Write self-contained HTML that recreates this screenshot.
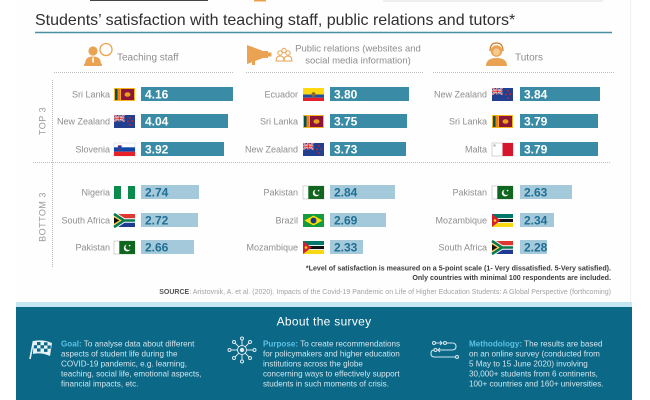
<!DOCTYPE html>
<html><head><meta charset="utf-8"><style>
html,body{margin:0;padding:0;background:#fff;}
svg{display:block;}
text{font-family:"Liberation Sans",sans-serif;}
.lab{font-size:9px;fill:#8e8e8e;text-anchor:end;}
.vt{font-size:12px;font-weight:bold;fill:#fff;}
.vb{font-size:12px;font-weight:bold;fill:#1f6f94;}
.ft{font-size:8.1px;fill:#d3e5ee;}
.fh{font-weight:bold;fill:#5cc2e6;}
</style></head><body>
<svg width="650" height="400" viewBox="0 0 650 400" xmlns="http://www.w3.org/2000/svg">
<defs>
 <g id="lk"><rect width="21" height="13" fill="#f6b619"/><rect x="1" y="1" width="2.6" height="11" fill="#00534e"/><rect x="3.6" y="1" width="2.6" height="11" fill="#f57a18"/><rect x="7" y="1" width="13" height="11" fill="#8d153a"/><ellipse cx="13.5" cy="6.5" rx="3" ry="2.3" fill="#e6a21c"/></g>
 <g id="nz"><rect width="21" height="13" fill="#22408f"/><rect width="10.5" height="6.5" fill="#22408f"/><path d="M0,0L10.5,6.5M10.5,0L0,6.5" stroke="#fff" stroke-width="1.6"/><path d="M0,0L10.5,6.5M10.5,0L0,6.5" stroke="#d22" stroke-width="0.6"/><path d="M5.25,0V6.5M0,3.25H10.5" stroke="#fff" stroke-width="2"/><path d="M5.25,0V6.5M0,3.25H10.5" stroke="#d22" stroke-width="1.1"/><circle cx="16" cy="3" r="0.9" fill="#d22"/><circle cx="18.3" cy="6" r="0.9" fill="#d22"/><circle cx="14" cy="6.5" r="0.9" fill="#d22"/><circle cx="16" cy="10" r="0.9" fill="#d22"/></g>
 <g id="si"><rect width="21" height="13" fill="#fff" stroke="#ccc" stroke-width="0.5"/><rect y="4.3" width="21" height="4.4" fill="#1046a8"/><rect y="8.7" width="21" height="4.3" fill="#e8202a"/><path d="M4,2.5h3.5v3.5q-1.75,2-3.5,0z" fill="#1046a8" stroke="#e8202a" stroke-width="0.4"/></g>
 <g id="ng"><rect width="7" height="13" fill="#0a8a4c"/><rect x="7" width="7" height="13" fill="#fff"/><rect x="14" width="7" height="13" fill="#0a8a4c"/></g>
 <g id="za"><rect width="21" height="6.5" fill="#de3831"/><rect y="6.5" width="21" height="6.5" fill="#1f3a93"/><path d="M0,0L10,6.5L21,6.5M0,13L10,6.5" stroke="#fff" stroke-width="4.4" fill="none"/><path d="M0,0L10,6.5L21,6.5M0,13L10,6.5" stroke="#0a7a4d" stroke-width="2.6" fill="none"/><path d="M0,2.2L7,6.5L0,10.8z" fill="#ffb612"/><path d="M0,3.4L5.2,6.5L0,9.6z" fill="#111"/></g>
 <g id="pk"><rect width="21" height="13" fill="#fff" stroke="#bbb" stroke-width="0.6"/><rect x="5.3" width="15.7" height="13" fill="#11661f"/><circle cx="13.2" cy="7" r="3.4" fill="#fff"/><circle cx="14.4" cy="6.1" r="2.9" fill="#11661f"/><circle cx="15.6" cy="4.6" r="0.8" fill="#fff"/></g>
 <g id="ec"><rect width="21" height="6.5" fill="#ffd90f"/><rect y="6.5" width="21" height="3.25" fill="#1c4fa0"/><rect y="9.75" width="21" height="3.25" fill="#e5202a"/><ellipse cx="10.5" cy="6.5" rx="2" ry="2.4" fill="#8a6a2a"/></g>
 <g id="br"><rect width="21" height="13" fill="#139b3d"/><path d="M10.5,1.5L19.5,6.5L10.5,11.5L1.5,6.5z" fill="#fedf00"/><circle cx="10.5" cy="6.5" r="3" fill="#1a3a8a"/></g>
 <g id="mz"><rect width="21" height="4.2" fill="#00796b"/><rect y="4.2" width="21" height="0.8" fill="#fff"/><rect y="5" width="21" height="3.2" fill="#111"/><rect y="8.2" width="21" height="0.8" fill="#fff"/><rect y="9" width="21" height="4" fill="#f8d90f"/><path d="M0,0L8.5,6.5L0,13z" fill="#d4202e"/><circle cx="3" cy="6.5" r="1.3" fill="#f8d90f"/></g>
 <g id="mt"><rect width="21" height="13" fill="#fff" stroke="#bbb" stroke-width="0.6"/><rect x="10.5" width="10.5" height="13" fill="#d6162c"/><rect x="1.5" y="1.5" width="2" height="2" fill="#aaa"/></g>
</defs>

<rect x="16" y="0" width="616" height="303" fill="#fefefe"/>
<line x1="630.5" y1="0" x2="630.5" y2="303" stroke="#f2f2f2" stroke-width="1"/>
<rect x="90" y="0" width="118" height="1" fill="#444"/>
<rect x="254" y="0" width="12" height="1.5" fill="#e8a04a"/>
<rect x="383" y="0" width="220" height="2" fill="#eeeeee"/>

<!-- Title -->
<text x="35" y="25" font-size="16" fill="#2f2f2f">Students’ satisfaction with teaching staff, public relations and tutors*</text>
<line x1="35" y1="32.5" x2="612" y2="32.5" stroke="#4b8fa2" stroke-width="1.5"/>

<!-- Header icons -->
<g fill="#eaa352">
 <circle cx="106" cy="49.5" r="6" fill="none" stroke="#eaa352" stroke-width="1.3"/>
 <circle cx="93" cy="51" r="4.6"/>
 <path d="M85,64 Q85,56.5 93,56.5 Q101,56.5 101,64 Z"/>
 <rect x="84" y="63.5" width="18" height="2.5" rx="1"/>
 <rect x="92.3" y="57.5" width="1.6" height="5" fill="#fff"/>
</g>
<text x="117" y="60.5" font-size="10" fill="#8e8e8e">Teaching staff</text>

<g fill="#eaa352">
 <path d="M247,45 L262,50.5 L262,58.5 L247,64 Z"/>
 <rect x="262" y="51" width="6" height="7"/>
 <rect x="268" y="52.5" width="3.5" height="4"/>
 <rect x="252" y="59" width="3" height="6"/>
</g>
<g fill="none" stroke="#eaa352" stroke-width="1">
 <circle cx="280" cy="53" r="2.2"/><circle cx="284" cy="50.5" r="2.2"/><circle cx="288" cy="53" r="2.2"/>
 <path d="M276,61 q0,-5 4,-5 q4,0 4,5z"/><path d="M284,61 q0,-5 4,-5 q4,0 4,5z"/>
</g>
<text x="358" y="51.3" font-size="9.5" fill="#8e8e8e" text-anchor="middle">Public relations (websites and</text>
<text x="358" y="63.3" font-size="9.5" fill="#8e8e8e" text-anchor="middle">social media information)</text>

<g fill="#eaa352">
 <circle cx="496.5" cy="51" r="5.8"/>
 <path d="M486,66 Q486,58 496.5,58 Q507,58 507,66 Z"/>
 <path d="M490,51 q0,-8 6.5,-8 q6.5,0 6.5,8" fill="none" stroke="#c97c2a" stroke-width="1.2"/>
 <circle cx="496.5" cy="52" r="3.6" fill="#f6c98f"/>
</g>
<text x="515" y="60.5" font-size="10" fill="#8e8e8e">Tutors</text>

<!-- dotted lines -->
<g stroke="#a9a9a9" stroke-width="0.8" stroke-dasharray="1,1">
 <line x1="54" y1="72.5" x2="233" y2="72.5"/>
 <line x1="246" y1="72.5" x2="423" y2="72.5"/>
 <line x1="433" y1="72.5" x2="614" y2="72.5"/>
 <line x1="52.5" y1="80" x2="52.5" y2="268"/>
 <line x1="33" y1="162.5" x2="610" y2="162.5"/>
</g>
<text transform="translate(45.5,121) rotate(-90)" font-size="9" fill="#9a9a9a" text-anchor="middle" letter-spacing="0.5">TOP 3</text>
<text transform="translate(45.5,217) rotate(-90)" font-size="9" fill="#9a9a9a" text-anchor="middle" letter-spacing="0.5">BOTTOM 3</text>

<!-- Column 1 -->
<text class="lab" x="110" y="97.5">Sri Lanka</text><use href="#lk" x="114" y="88"/><rect x="141" y="87" width="92" height="14" fill="#3a8ba5"/><text class="vt" x="145" y="98.5">4.16</text>
<text class="lab" x="110" y="124.5">New Zealand</text><use href="#nz" x="114" y="115"/><rect x="141" y="114" width="87" height="14" fill="#3a8ba5"/><text class="vt" x="145" y="125.5">4.04</text>
<text class="lab" x="110" y="152.5">Slovenia</text><use href="#si" x="114" y="143"/><rect x="141" y="142" width="83" height="14" fill="#3a8ba5"/><text class="vt" x="145" y="153.5">3.92</text>

<text class="lab" x="110" y="195.5">Nigeria</text><use href="#ng" x="114" y="186"/><rect x="141" y="185" width="58" height="14" fill="#a3c9da"/><text class="vb" x="145" y="196.5">2.74</text>
<text class="lab" x="110" y="223.5">South Africa</text><use href="#za" x="114" y="214"/><rect x="141" y="213" width="57" height="14" fill="#a3c9da"/><text class="vb" x="145" y="224.5">2.72</text>
<text class="lab" x="110" y="250.5">Pakistan</text><use href="#pk" x="114" y="241"/><rect x="141" y="240" width="53" height="14" fill="#a3c9da"/><text class="vb" x="145" y="251.5">2.66</text>

<!-- Column 2 -->
<text class="lab" x="298" y="97.5">Ecuador</text><use href="#ec" x="303" y="88"/><rect x="330" y="87" width="79" height="14" fill="#3a8ba5"/><text class="vt" x="334" y="98.5">3.80</text>
<text class="lab" x="298" y="124.5">Sri Lanka</text><use href="#lk" x="303" y="115"/><rect x="330" y="114" width="77" height="14" fill="#3a8ba5"/><text class="vt" x="334" y="125.5">3.75</text>
<text class="lab" x="298" y="152.5">New Zealand</text><use href="#nz" x="303" y="143"/><rect x="330" y="142" width="76" height="14" fill="#3a8ba5"/><text class="vt" x="334" y="153.5">3.73</text>

<text class="lab" x="298" y="195.5">Pakistan</text><use href="#pk" x="303" y="186"/><rect x="330" y="185" width="65" height="14" fill="#a3c9da"/><text class="vb" x="334" y="196.5">2.84</text>
<text class="lab" x="298" y="223.5">Brazil</text><use href="#br" x="303" y="214"/><rect x="330" y="213" width="56" height="14" fill="#a3c9da"/><text class="vb" x="334" y="224.5">2.69</text>
<text class="lab" x="298" y="250.5">Mozambique</text><use href="#mz" x="303" y="241"/><rect x="330" y="240" width="33" height="14" fill="#a3c9da"/><text class="vb" x="334" y="251.5">2.33</text>

<!-- Column 3 -->
<text class="lab" x="487" y="97.5">New Zealand</text><use href="#nz" x="492" y="88"/><rect x="520" y="87" width="80" height="14" fill="#3a8ba5"/><text class="vt" x="524" y="98.5">3.84</text>
<text class="lab" x="487" y="124.5">Sri Lanka</text><use href="#lk" x="492" y="115"/><rect x="520" y="114" width="78" height="14" fill="#3a8ba5"/><text class="vt" x="524" y="125.5">3.79</text>
<text class="lab" x="487" y="152.5">Malta</text><use href="#mt" x="492" y="143"/><rect x="520" y="142" width="78" height="14" fill="#3a8ba5"/><text class="vt" x="524" y="153.5">3.79</text>

<text class="lab" x="487" y="195.5">Pakistan</text><use href="#pk" x="492" y="186"/><rect x="520" y="185" width="52" height="14" fill="#a3c9da"/><text class="vb" x="524" y="196.5">2.63</text>
<text class="lab" x="487" y="223.5">Mozambique</text><use href="#mz" x="492" y="214"/><rect x="520" y="213" width="34" height="14" fill="#a3c9da"/><text class="vb" x="524" y="224.5">2.34</text>
<text class="lab" x="487" y="250.5">South Africa</text><use href="#za" x="492" y="241"/><rect x="520" y="240" width="27" height="14" fill="#a3c9da"/><text class="vb" x="524" y="251.5">2.28</text>

<!-- Footnotes -->
<text x="611" y="270.5" font-size="7.1" font-weight="bold" fill="#3c3c3c" text-anchor="end">*Level of satisfaction is measured on a 5-point scale (1- Very dissatisfied. 5-Very satisfied).</text>
<text x="611" y="280" font-size="7.1" font-weight="bold" fill="#3c3c3c" text-anchor="end">Only countries with minimal 100 respondents are included.</text>
<text x="611" y="294" font-size="7" fill="#a3a3a3" text-anchor="end"><tspan font-weight="bold" fill="#555">SOURCE</tspan>: Aristovnik, A. et al. (2020). Impacts of the Covid-19 Pandemic on Life of Higher Education Students: A Global Perspective (forthcoming)</text>

<!-- Footer -->
<rect x="16" y="302" width="616" height="5" fill="#c3e6f1"/>
<rect x="16" y="307" width="616" height="93" fill="#0b6886"/>
<text x="324" y="325.5" font-size="12" fill="#ffffff" text-anchor="middle" letter-spacing="0.3">About the survey</text>

<!-- goal icon -->
<g>
 <line x1="30" y1="359" x2="33.5" y2="341" stroke="#e6f1f5" stroke-width="1.6"/>
 <path d="M33.5,341 Q43,339 52,343 L50,356 Q41,352 33,354 Z" fill="#e6f1f5"/>
 <g fill="#0b6886">
  <rect x="37" y="342" width="3.5" height="3.2"/><rect x="44" y="342.3" width="3.5" height="3.2"/>
  <rect x="40.5" y="345.2" width="3.5" height="3.2"/><rect x="47.5" y="345.5" width="3.2" height="3.2"/>
  <rect x="37" y="348.4" width="3.5" height="3.2"/><rect x="44" y="348.7" width="3.5" height="3.2"/>
  <rect x="34" y="345.2" width="3" height="3.2"/>
 </g>
</g>
<text class="ft" x="61" y="346.5"><tspan class="fh">Goal:</tspan> To analyse data about different</text>
<text class="ft" x="61" y="356.5">aspects of student life during the</text>
<text class="ft" x="61" y="366.5">COVID-19 pandemic, e.g. learning,</text>
<text class="ft" x="61" y="376.5">teaching, social life, emotional aspects,</text>
<text class="ft" x="61" y="386.5">financial impacts, etc.</text>

<!-- purpose icon -->
<g stroke="#dbe9ef" stroke-width="1" fill="none">
 <circle cx="242" cy="350" r="4.5"/>
 <path d="M242,345.5V340M242,354.5V360M237.5,350H231M246.5,350H253M238.8,346.8L235,343M245.2,346.8L249,343M238.8,353.2L235,357M245.2,353.2L249,357"/>
 <circle cx="242" cy="338.5" r="1.5"/><circle cx="242" cy="361.5" r="1.5"/><circle cx="229.5" cy="350" r="1.5"/><circle cx="254.5" cy="350" r="1.5"/>
 <circle cx="234" cy="342" r="1.5"/><circle cx="250" cy="342" r="1.5"/><circle cx="234" cy="358" r="1.5"/><circle cx="250" cy="358" r="1.5"/>
</g>
<circle cx="242" cy="350" r="2.2" fill="#dbe9ef"/>
<text class="ft" x="263" y="346.5"><tspan class="fh">Purpose:</tspan> To create recommendations</text>
<text class="ft" x="263" y="356.5">for policymakers and higher education</text>
<text class="ft" x="263" y="366.5">institutions across the globe</text>
<text class="ft" x="263" y="376.5">concerning ways to effectively support</text>
<text class="ft" x="263" y="386.5">students in such moments of crisis.</text>

<!-- methodology icon -->
<g stroke="#cfe4ee" stroke-width="1.1" fill="none">
 <circle cx="434" cy="343" r="1.5"/><path d="M436,343H442M440,341L442,343L440,345"/><circle cx="445" cy="343" r="1.5"/>
 <path d="M447,343H452Q456,343 456,346.5Q456,350 452,350H438"/><path d="M440,348L438,350L440,352"/>
 <circle cx="435.5" cy="350" r="1.5"/>
 <path d="M434,350Q431,350 431,353.5Q431,357 434.5,357H455"/><circle cx="457" cy="357" r="1.5"/>
</g>
<text class="ft" x="469" y="346.5"><tspan class="fh">Methodology:</tspan> The results are based</text>
<text class="ft" x="469" y="356.5">on an online survey (conducted from</text>
<text class="ft" x="469" y="366.5">5 May to 15 June 2020) involving</text>
<text class="ft" x="469" y="376.5">30,000+ students from 6 continents,</text>
<text class="ft" x="469" y="386.5">100+ countries and 160+ universities.</text>
</svg>
</body></html>
